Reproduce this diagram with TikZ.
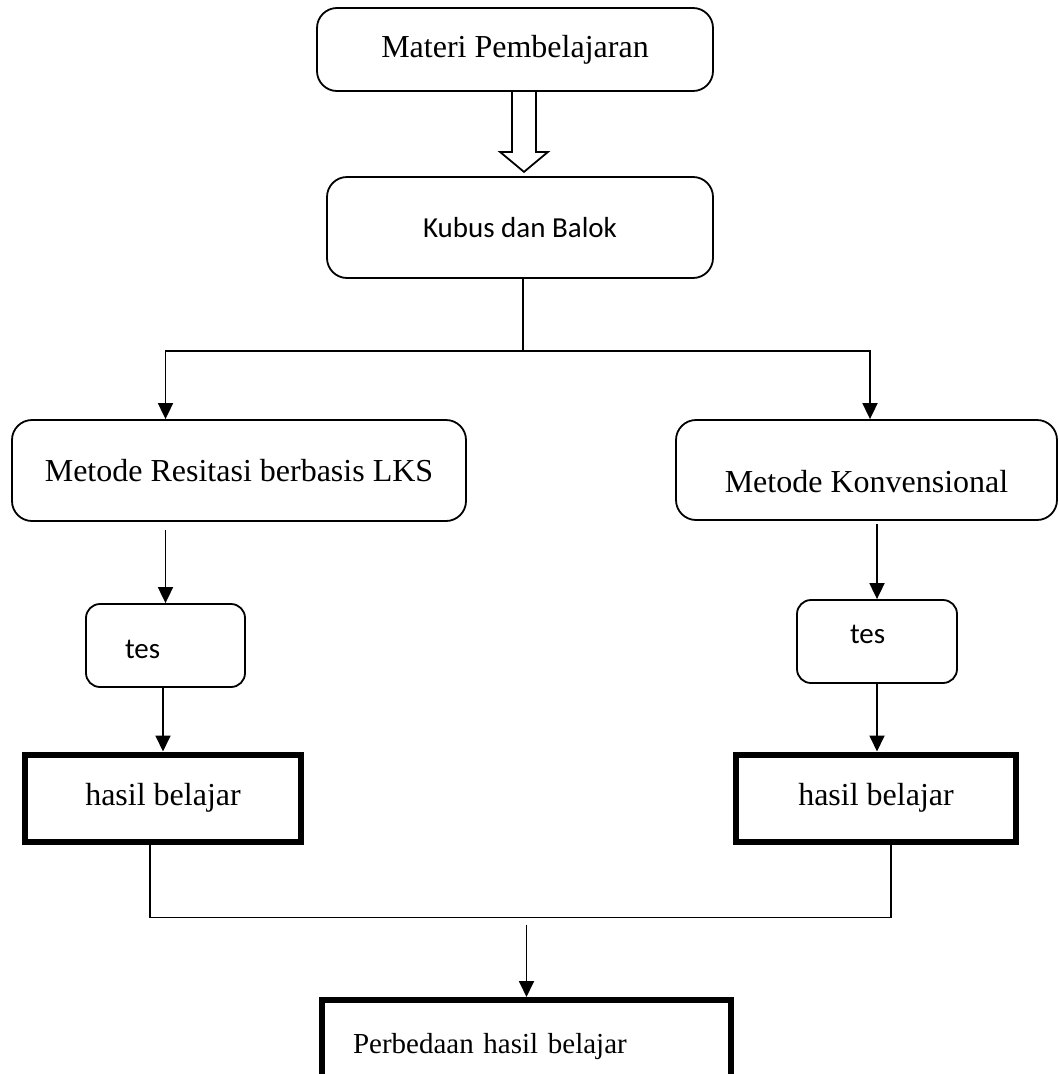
\documentclass[tikz,border=0pt]{standalone}
\usepackage{fontspec}
\setmainfont{Liberation Serif}
\newfontfamily\calibri{Carlito}
\usetikzlibrary{arrows.meta, positioning, calc}
\tikzset{
  rbox/.style={rectangle, draw, rounded corners=20pt, line width=1.8pt,
    font=\fontsize{32}{38}\selectfont, inner sep=0pt},
  sbox/.style={rectangle, draw, rounded corners=14pt, line width=1.8pt,
    font=\calibri\fontsize{29}{35}\selectfont, inner sep=0pt},
  tbox/.style={rectangle, draw, line width=6pt,
    font=\fontsize{32}{38}\selectfont, inner sep=0pt},
  arrow/.style={-{Triangle[length=16pt,width=15pt]}, line width=1.8pt},
  line/.style={line width=1.8pt}
}

\begin{document}
\begin{tikzpicture}[x=1pt, y=-1pt]
  \useasboundingbox (0,0) rectangle (1059,1074);

  \node[rbox, minimum width=396, minimum height=83] (mat) at (515,49.5) {Materi Pembelajaran};
  \node[sbox, rounded corners=20pt, minimum width=386, minimum height=101] (kub) at (520,227.5) {Kubus dan Balok};
  \node[rbox, minimum width=454, minimum height=101] (metL) at (239,470.5) {Metode Resitasi berbasis LKS};
  \node[rbox, minimum width=381, minimum height=100, text height=44pt, text depth=0pt] (metR) at (866.5,470) {Metode Konvensional};
  \node[sbox, minimum width=159, minimum height=83, inner xsep=39pt, text width=81pt, align=left,
        text height=25pt, text depth=0pt] (tesL) at (165.5,645.5) {tes};
  \node[sbox, minimum width=160, minimum height=83, inner xsep=53pt, text width=54pt, align=left,
        text height=3pt, text depth=0pt] (tesR) at (877,641.5) {tes};
  \node[tbox, minimum width=276, minimum height=87] (hasL) at (163,798) {hasil belajar};
  \node[tbox, minimum width=280, minimum height=87] (hasR) at (876,798) {hasil belajar};
  \node[tbox, minimum width=409, minimum height=94, inner xsep=31pt, text width=347pt, align=left,
        font=\fontsize{29}{35}\selectfont] (perb) at (526.5,1047) {Perbedaan hasil belajar};

  % hollow arrow
  \draw[line, line join=miter] ($(mat.south)+(-3,0)$) -- ++(0,60) -- ++(-12,0) -- ++(24,20)
    -- ++(24,-20) -- ++(-12,0) -- ++(0,-60);

  \draw[line] ([xshift=3pt]kub.south) -- ++(0,72) coordinate (sp);
  \draw[arrow] (sp) -| (tesL.north |- metL.north);
  \draw[arrow] (sp) -| ([xshift=3.5pt]metR.north);

  \draw[arrow, shorten <=8pt] (metL.south -| tesL.north) -- (tesL.north);
  \draw[arrow, shorten <=3pt] (metR.south -| tesR.north) -- (tesR.north);
  \draw[arrow] (tesL.south -| hasL.north) -- (hasL.north);
  \draw[arrow] (tesR.south) -- (tesR.south |- hasR.north);

  \draw[line] ([xshift=-13pt]hasL.south) -- ++(0,73) coordinate (jL) -| ([xshift=15pt]hasR.south);
  \draw[arrow, shorten <=7pt] (perb.north |- jL) -- (perb.north);
\end{tikzpicture}
\end{document}
